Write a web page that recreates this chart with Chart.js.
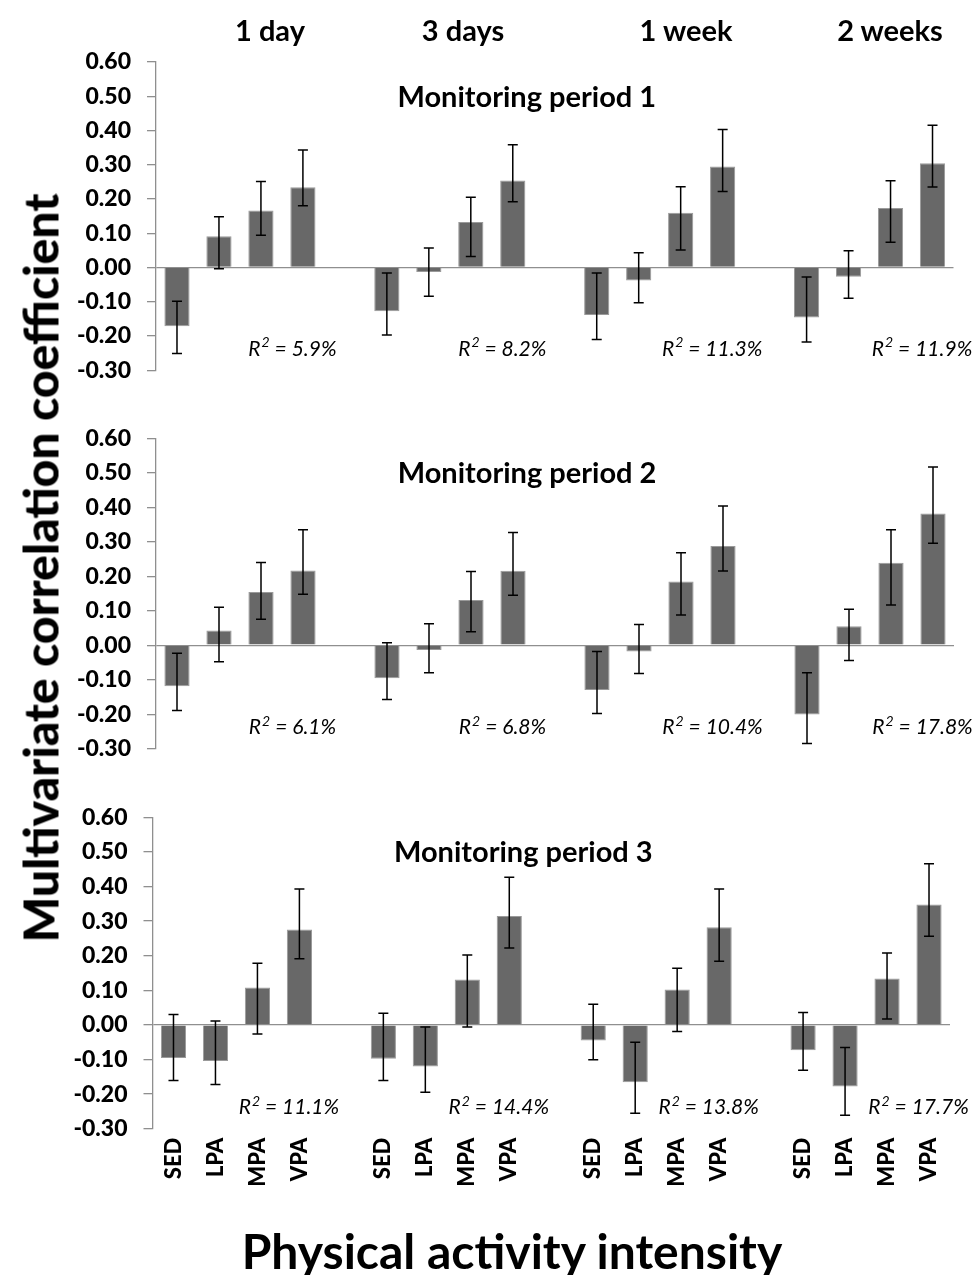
<!DOCTYPE html>
<html>
<head>
<script src="https://cdn.jsdelivr.net/npm/chart.js@4"></script>
<style>
  body { margin: 0; width: 977px; height: 1275px; position: relative; overflow: hidden; background: #fff; font-family: Lato, 'Open Sans', sans-serif; }
  canvas { position: absolute; left: 0; }
  .txt { position: absolute; font-weight: bold; color: #000; white-space: nowrap; transform: translate(-50%, -50%); }
</style>
</head>
<body>
<canvas id="p1" width="977" height="400" style="top:0px"></canvas>
<canvas id="p2" width="977" height="380" style="top:400px"></canvas>
<canvas id="p3" width="977" height="495" style="top:780px"></canvas>

<div class="txt" style="left:270px; top:29px; font-size:29px">1 day</div>
<div class="txt" style="left:463px; top:29px; font-size:29px">3 days</div>
<div class="txt" style="left:686px; top:29px; font-size:29px">1 week</div>
<div class="txt" style="left:890px; top:29px; font-size:29px">2 weeks</div>
<div class="txt" style="left:40px; top:568px; font-size:48px; font-weight:900; transform: translate(-50%, -50%) rotate(-90deg)">Multivariate correlation coefficient</div>
<div class="txt" style="left:512px; top:1250px; font-size:48px">Physical activity intensity</div>

<script>
// categories: 4 intensities per period, blank slot between periods
const intensities = ['SED', 'LPA', 'MPA', 'VPA'];
const periods = ['1 day', '3 days', '1 week', '2 weeks'];
const panelTitles = ['Monitoring period 1', 'Monitoring period 2', 'Monitoring period 3'];

// coefficients, 1 day / 3 days / 1 week / 2 weeks, each SED LPA MPA VPA
const coef1 = [-0.172, 0.091, 0.166, 0.234, -0.128, -0.013, 0.133, 0.254, -0.139, -0.038, 0.160, 0.295, -0.146, -0.027, 0.174, 0.304];
const lo1 = [-0.251, -0.004, 0.094, 0.180, -0.197, -0.084, 0.032, 0.192, -0.210, -0.103, 0.051, 0.222, -0.218, -0.090, 0.074, 0.235];
const hi1 = [-0.099, 0.148, 0.251, 0.343, -0.016, 0.057, 0.205, 0.358, -0.016, 0.043, 0.236, 0.403, -0.028, 0.049, 0.253, 0.415];

const coef2 = [-0.119, 0.043, 0.154, 0.217, -0.096, -0.014, 0.131, 0.216, -0.130, -0.018, 0.185, 0.288, -0.201, 0.055, 0.239, 0.382];
const lo2 = [-0.189, -0.048, 0.075, 0.148, -0.157, -0.080, 0.039, 0.145, -0.198, -0.082, 0.088, 0.215, -0.285, -0.044, 0.117, 0.296];
const hi2 = [-0.023, 0.110, 0.240, 0.335, 0.007, 0.062, 0.214, 0.327, -0.018, 0.060, 0.268, 0.404, -0.080, 0.104, 0.335, 0.517];

const coef3 = [-0.096, -0.104, 0.108, 0.276, -0.098, -0.120, 0.131, 0.315, -0.045, -0.166, 0.102, 0.282, -0.073, -0.178, 0.134, 0.348];
const lo3 = [-0.161, -0.172, -0.026, 0.191, -0.161, -0.195, -0.006, 0.222, -0.101, -0.255, -0.019, 0.184, -0.131, -0.261, 0.017, 0.256];
const hi3 = [0.030, 0.011, 0.178, 0.393, 0.034, -0.006, 0.202, 0.427, 0.060, -0.050, 0.164, 0.393, 0.036, -0.065, 0.208, 0.466];

const r2_1 = ['5.9', '8.2', '11.3', '11.9'];
const r2_2 = ['6.1', '6.8', '10.4', '17.8'];
const r2_3 = ['11.1', '14.4', '13.8', '17.7'];

const yTicks = [-0.3, -0.2, -0.1, 0, 0.1, 0.2, 0.3, 0.4, 0.5, 0.6];

// build the 19 slot label list
const labels = [];
periods.forEach((p, g) => {
  intensities.forEach(s => labels.push(s));
  if (g < periods.length - 1) labels.push('');
});

function spread(arr) {
  const out = [];
  for (let g = 0; g < 4; g++) {
    for (let k = 0; k < 4; k++) out.push(arr[g * 4 + k]);
    if (g < 3) out.push(null);
  }
  return out;
}

const axisGrey = '#8f8f8f';

const errorBars = {
  id: 'errorBars',
  afterDatasetsDraw(chart, args, opts) {
    const meta = chart.getDatasetMeta(0);
    const y = chart.scales.y;
    const ctx = chart.ctx;
    ctx.save();
    ctx.strokeStyle = '#000';
    ctx.lineWidth = 1.5;
    opts.lo.forEach((lo, i) => {
      if (lo == null) return;
      const x = meta.data[i].x;
      const y1 = y.getPixelForValue(lo);
      const y2 = y.getPixelForValue(opts.hi[i]);
      ctx.beginPath();
      ctx.moveTo(x, y1); ctx.lineTo(x, y2);
      ctx.moveTo(x - 5, y1); ctx.lineTo(x + 5, y1);
      ctx.moveTo(x - 5, y2); ctx.lineTo(x + 5, y2);
      ctx.stroke();
    });
    ctx.restore();
  }
};

const annotations = {
  id: 'annotations',
  afterDraw(chart, args, opts) {
    const ctx = chart.ctx;
    const a = chart.chartArea;
    const x = chart.scales.x;
    const y = chart.scales.y;
    ctx.save();
    ctx.fillStyle = '#000';
    ctx.textBaseline = 'middle';
    ctx.textAlign = 'center';
    ctx.font = 'bold 29px Lato, sans-serif';
    ctx.fillText(opts.title, a.left + (a.right - a.left) * 0.465, y.getPixelForValue(0.497));
    // R² with a raised 2
    const big = 'italic 21px Lato, sans-serif';
    const small = 'italic 14px Lato, sans-serif';
    ctx.textAlign = 'left';
    opts.r2.forEach((r, g) => {
      const rest = ' = ' + r + '%';
      ctx.font = big;
      const wR = ctx.measureText('R').width;
      const wRest = ctx.measureText(rest).width;
      ctx.font = small;
      const w2 = ctx.measureText('2').width + 1;
      const total = wR + w2 + wRest;
      const cx = x.getPixelForValue(g * 5 + 2.75);
      const cy = y.getPixelForValue(-0.238);
      let px = cx - total / 2;
      ctx.font = big;
      ctx.fillText('R', px, cy);
      px += wR;
      ctx.font = small;
      ctx.fillText('2', px + 1, cy - 6);
      px += w2;
      ctx.font = big;
      ctx.fillText(rest, px, cy);
    });
    ctx.restore();
  }
};

function makePanel(id, coef, lo, hi, r2, title, pad, showX) {
  new Chart(document.getElementById(id), {
    type: 'bar',
    data: {
      labels: labels,
      datasets: [{
        data: spread(coef),
        backgroundColor: '#686868',
        borderColor: '#9a9a9a',
        borderWidth: 1,
        categoryPercentage: 1,
        barPercentage: 0.6
      }]
    },
    options: {
      responsive: false,
      animation: false,
      layout: { padding: pad },
      plugins: {
        legend: { display: false },
        tooltip: { enabled: false },
        errorBars: { lo: spread(lo), hi: spread(hi) },
        annotations: { r2: r2, title: title }
      },
      scales: {
        x: {
          display: showX,
          grid: { display: false, drawTicks: false },
          border: { display: false },
          ticks: {
            autoSkip: false,
            minRotation: 90,
            maxRotation: 90,
            padding: 9,
            color: '#000',
            font: { family: 'Lato', weight: '900', size: 22 }
          },
          afterFit: showX ? (s => { s.height = 80; }) : undefined
        },
        y: {
          min: -0.3,
          max: 0.6,
          afterBuildTicks: s => { s.ticks = yTicks.map(v => ({ value: v })); },
          afterFit: s => { s.width = 90; },
          border: { display: true, color: axisGrey, width: 1.3 },
          grid: {
            drawOnChartArea: true,
            color: c => (c.tick && Math.abs(c.tick.value) < 1e-9) ? axisGrey : 'rgba(0,0,0,0)',
            lineWidth: 1.3,
            tickColor: axisGrey,
            tickLength: 9
          },
          ticks: {
            autoSkip: false,
            padding: 16,
            color: '#000',
            font: { family: 'Lato', weight: '900', size: 23 },
            callback: v => v.toFixed(2)
          }
        }
      }
    },
    plugins: [errorBars, annotations]
  });
}

makePanel('p1', coef1, lo1, hi1, r2_1, panelTitles[0], { top: 62, bottom: 26.7, left: 66, right: 23.5 }, false);
makePanel('p2', coef2, lo2, hi2, r2_2, panelTitles[1], { top: 38.3, bottom: 31.3, left: 66, right: 23 }, false);
makePanel('p3', coef3, lo3, hi3, r2_3, panelTitles[2], { top: 37.3, bottom: 66.3, left: 62.5, right: 27 }, true);
</script>
</body>
</html>
